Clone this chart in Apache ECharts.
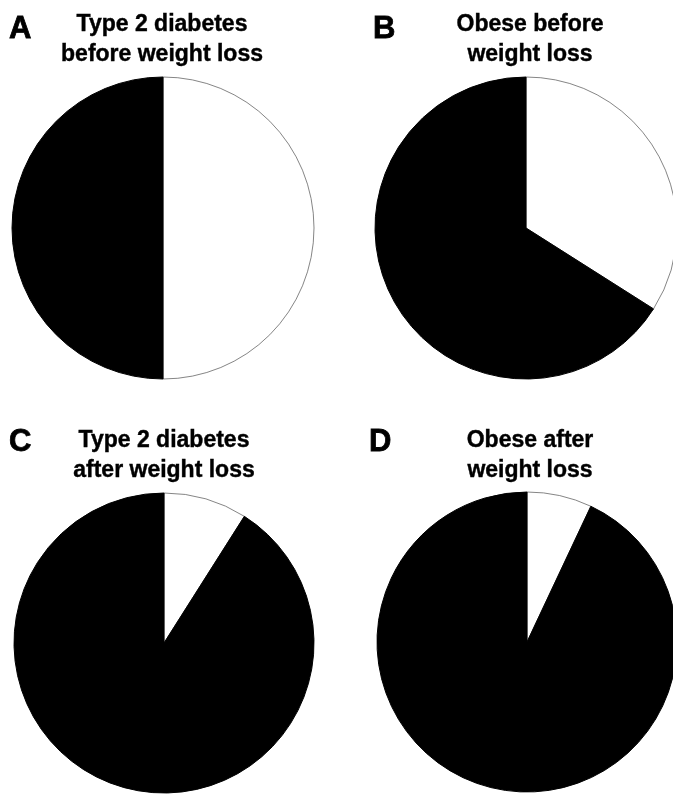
<!DOCTYPE html>
<html>
<head>
<meta charset="utf-8">
<script src="https://cdn.jsdelivr.net/npm/echarts@6/dist/echarts.min.js"></script>
<style>
  html, body { margin: 0; padding: 0; background: #fff; }
  #chart { width: 673px; height: 794px; }
</style>
</head>
<body>
<div id="chart"></div>
<script>
// panel letters and headings
var panelLetters = ['A', 'B', 'C', 'D'];
var panelTitles = [
    'Type 2 diabetes\nbefore weight loss',
    'Obese before\nweight loss',
    'Type 2 diabetes\nafter weight loss',
    'Obese after\nweight loss'
];
// slice shares in percent, clockwise from 12 o'clock (white first, then black)
var sliceNames = ['white', 'black'];
var whiteShare = [50, 34, 9, 7];
var blackShare = [50, 66, 91, 93];

// layout of the four panels
var pieCenters = [[163, 228], [526, 228], [164, 643], [527, 642]];
var pieRadius = [151, 151, 150, 150];
var letterPos = [[9, 14], [373, 14], [9, 427], [369, 427]];
var titlePos = [[162, 10], [530, 10], [164, 426], [530, 426]];

var myChart = echarts.init(document.getElementById('chart'), null, { renderer: 'canvas' });

var series = [];
var graphic = [];
panelLetters.forEach(function (letter, i) {
    series.push({
        type: 'pie',
        center: pieCenters[i],
        radius: [0, pieRadius[i]],
        startAngle: 90,
        clockwise: true,
        silent: true,
        animation: false,
        label: { show: false },
        labelLine: { show: false },
        emphasis: { disabled: true },
        data: [
            { name: sliceNames[0], value: whiteShare[i],
              itemStyle: { color: '#ffffff', borderColor: '#666', borderWidth: 0.8 } },
            { name: sliceNames[1], value: blackShare[i],
              itemStyle: { color: '#000000', borderColor: '#000', borderWidth: 1 } }
        ]
    });
    graphic.push({
        type: 'text',
        x: letterPos[i][0],
        y: letterPos[i][1],
        style: {
            text: letter,
            font: 'bold 31px "Liberation Sans", Arial, sans-serif',
            fill: '#000',
            stroke: '#000',
            lineWidth: 0.8,
            textAlign: 'left',
            textVerticalAlign: 'top'
        }
    });
    graphic.push({
        type: 'text',
        x: titlePos[i][0],
        y: titlePos[i][1],
        style: {
            text: panelTitles[i],
            font: 'bold 23px "Liberation Sans", Arial, sans-serif',
            lineHeight: 30,
            fill: '#000',
            stroke: '#000',
            lineWidth: 0.4,
            textAlign: 'center',
            textVerticalAlign: 'top'
        }
    });
});

var option = {
    backgroundColor: '#fff',
    animation: false,
    series: series,
    graphic: graphic
};
myChart.setOption(option);
</script>
</body>
</html>
